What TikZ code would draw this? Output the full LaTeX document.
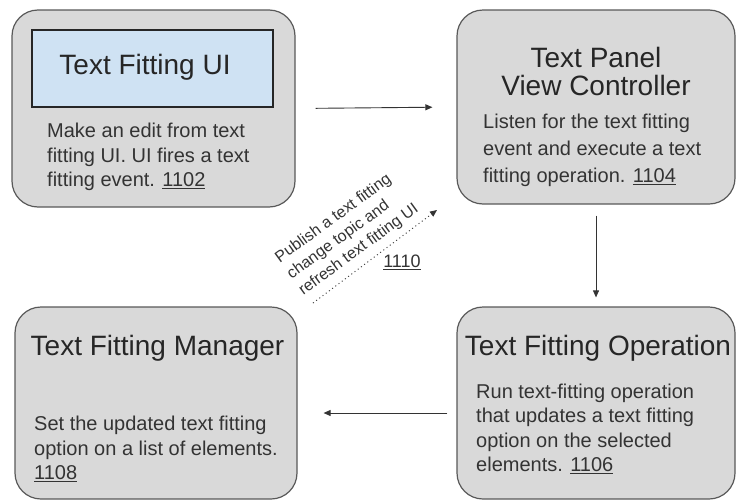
\documentclass[tikz,border=0pt]{standalone}
\usepackage{fontspec}
\setmainfont{Liberation Sans}
\usetikzlibrary{arrows.meta}
\definecolor{boxgray}{HTML}{D9D9D9}
\definecolor{boxline}{HTML}{595959}
\definecolor{uiblue}{HTML}{CFE2F3}
\definecolor{inkdark}{HTML}{262626}
\definecolor{inkbody}{HTML}{333333}

\begin{document}
\begin{tikzpicture}[x=1pt,y=-1pt,
    module/.style={draw=boxline,line width=1.2pt,fill=boxgray,rounded corners=26pt,inner sep=0pt},
    title/.style={text=inkdark,font=\fontsize{28}{28}\selectfont,inner sep=0pt,align=center},
    body/.style={text=inkbody,font=\fontsize{20}{24.5}\selectfont,inner sep=0pt,align=left,anchor=west},
    flow/.style={draw=inkbody,line width=0.9pt,-{Triangle[length=7pt,width=6pt]}}]
  \useasboundingbox (0,0) rectangle (737,501);
  % the four modules
  \node[module,minimum width=283pt,minimum height=197pt] (ui) at (153.5,108.5) {};
  \node[module,minimum width=278pt,minimum height=194pt] (vc) at (596,107) {};
  \node[module,minimum width=282pt,minimum height=192pt] (mgr) at (156,403) {};
  \node[module,minimum width=278pt,minimum height=192pt] (op) at (596,403) {};
  % text fitting UI
  \node[draw=inkdark,line width=1.2pt,fill=uiblue,minimum width=241pt,minimum height=77pt,inner sep=0pt] (uiPanel) at (152.5,68.5) {};
  \node[title] (uiTitle) at (145,67) {Text Fitting UI};
  \node[body] (uiText) at (47,157) {Make an edit from text\\fitting UI. UI fires a text\\fitting event. \underline{1102}};
  % view controller
  \node[title] (vcTitle) at (596,71) {Text Panel\\View Controller};
  \node[body,font=\fontsize{20}{27}\selectfont] (vcText) at (483,150) {Listen for the text fitting\\event and execute a text\\fitting operation. \underline{1104}};
  % operation
  \node[title] (opTitle) at (598,348) {Text Fitting Operation};
  \node[body] (opText) at (476,429) {Run text-fitting operation\\that updates a text fitting\\option on the selected\\elements. \underline{1106}};
  % manager
  \node[title] (mgrTitle) at (157.5,348) {Text Fitting Manager};
  \node[body] (mgrText) at (34,449) {Set the updated text fitting\\option on a list of elements.\\\underline{1108}};
  % flow between modules
  \draw[flow,shorten <=20pt,shorten >=24pt] (ui.east) -- (vc.west);
  \draw[flow,shorten <=11pt,shorten >=9pt] (vc.south) -- (op.north);
  \draw[flow,shorten <=9pt,shorten >=26pt] ([yshift=-10pt]op.west) -- ([yshift=-10pt]mgr.east);
  % publish back to the UI
  \coordinate (pubFrom) at (313,303);
  \coordinate (pubTo) at (437,210);
  \draw[flow,dash pattern=on 1pt off 3pt] (pubFrom) -- (pubTo);
  \node[rotate=36,anchor=west,align=left,font=\fontsize{16}{20}\selectfont,text=inkbody,inner sep=0pt] (pubNote) at (289,276) {Publish a text fitting\\change topic and\\refresh text fitting UI};
  \node[font=\fontsize{18}{20}\selectfont,text=inkbody,inner sep=0pt] (pubNum) at (402,262) {\underline{1110}};
\end{tikzpicture}
\end{document}
